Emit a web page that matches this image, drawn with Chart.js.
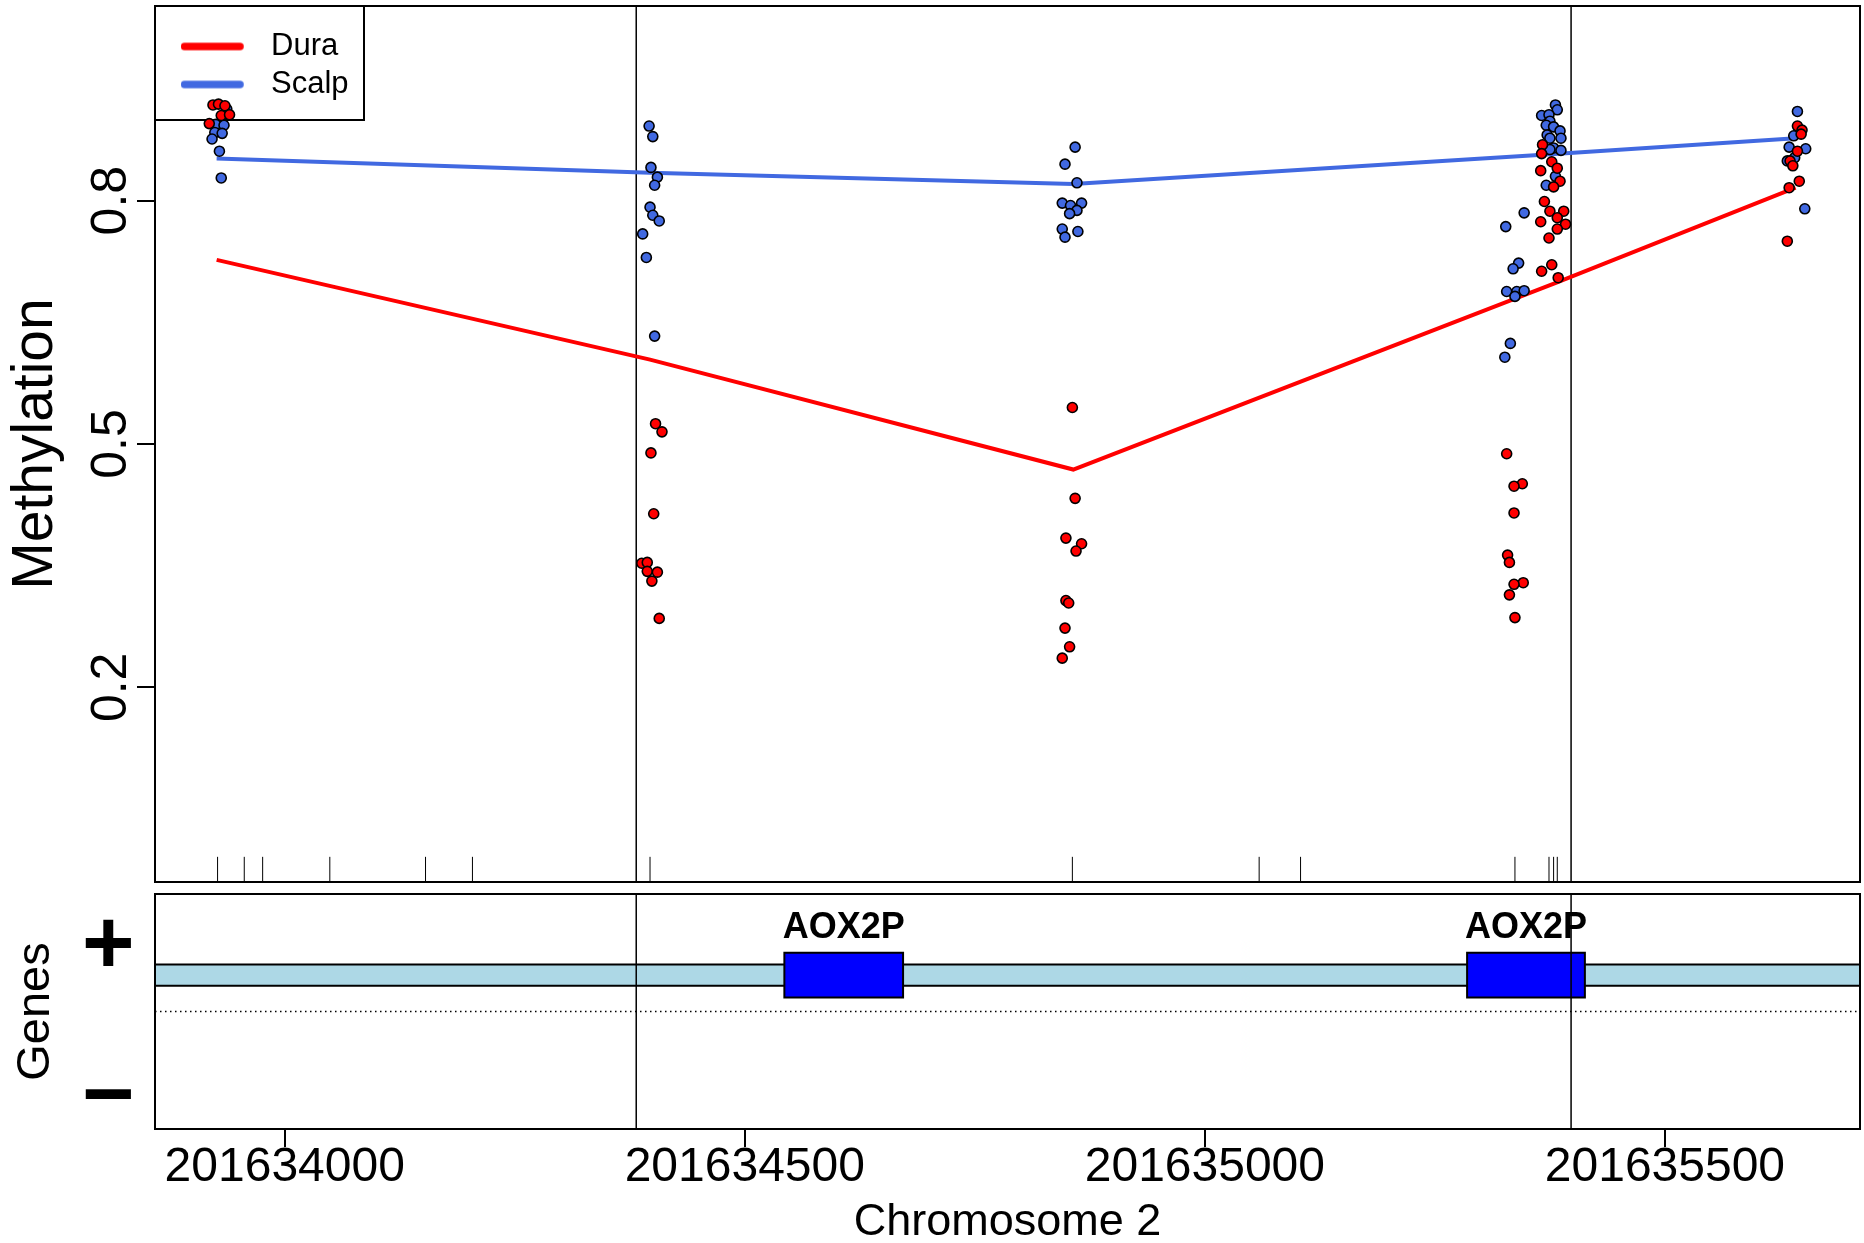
<!DOCTYPE html>
<html>
<head>
<meta charset="utf-8">
<title>Methylation, Chromosome 2</title>
<script src="https://cdn.jsdelivr.net/npm/chart.js"></script>
<style>
  html, body { margin: 0; padding: 0; background: #fff; }
  #page { position: relative; width: 1864px; height: 1243px; }
  #methChart { position: absolute; left: 0; top: 0; }
  #geneChart { position: absolute; left: 0; top: 884px; }
</style>
</head>
<body>
<div id="page">
  <canvas id="methChart" width="1864" height="890"></canvas>
  <canvas id="geneChart" width="1864" height="359"></canvas>
</div>
<script>
// genomic window and ticks
const xMin = 201633859;
const xMax = 201635712;
const xTicks = [201634000, 201634500, 201635000, 201635500];
const yTicks = [0.2, 0.5, 0.8];

// per-sample methylation, Dura
const duraPos = [
  201633922, 201633928, 201633935, 201633931, 201633940, 201633918,
  201634403, 201634410, 201634398, 201634401, 201634388, 201634394, 201634394, 201634405, 201634399, 201634407,
  201634856, 201634859, 201634849, 201634866, 201634860, 201634849, 201634852, 201634848, 201634853, 201634845,
  201635367, 201635366, 201635377, 201635383, 201635365, 201635386, 201635379, 201635369, 201635375, 201635390,
  201635383, 201635365, 201635392, 201635383, 201635374, 201635377, 201635366, 201635384,
  201635328, 201635345, 201635336, 201635336, 201635329, 201635331, 201635346, 201635336, 201635331, 201635337,
  201635644, 201635649, 201635648, 201635644, 201635636, 201635639, 201635646, 201635635, 201635633
];
const duraMeth = [
  0.918, 0.919, 0.917, 0.905, 0.906, 0.895,
  0.525, 0.515, 0.489, 0.414, 0.353, 0.354, 0.343, 0.342, 0.331, 0.285,
  0.545, 0.433, 0.384, 0.377, 0.368, 0.307, 0.304, 0.273, 0.250, 0.236,
  0.869, 0.858, 0.848, 0.840, 0.837, 0.824, 0.817, 0.799, 0.787, 0.787,
  0.779, 0.774, 0.771, 0.765, 0.754, 0.721, 0.713, 0.705,
  0.488, 0.451, 0.448, 0.415, 0.363, 0.354, 0.329, 0.327, 0.314, 0.286,
  0.892, 0.887, 0.882, 0.861, 0.849, 0.843, 0.824, 0.816, 0.750
];

// per-sample methylation, Scalp
const scalpPos = [
  201633937, 201633925, 201633934, 201633924, 201633932, 201633921, 201633929, 201633931,
  201634396, 201634400, 201634398, 201634405, 201634402, 201634397, 201634400, 201634407, 201634389, 201634393, 201634402,
  201634859, 201634848, 201634861, 201634845, 201634854, 201634866, 201634861, 201634853, 201634845, 201634862, 201634848,
  201635381, 201635383, 201635366, 201635374, 201635375, 201635371, 201635379, 201635386, 201635372, 201635375,
  201635387, 201635379, 201635387, 201635375, 201635381, 201635371, 201635347, 201635327, 201635341, 201635335,
  201635328, 201635339, 201635347, 201635337, 201635332, 201635326,
  201635644, 201635640, 201635635, 201635653, 201635633, 201635641, 201635652
];
const scalpMeth = [
  0.913, 0.894, 0.893, 0.884, 0.883, 0.876, 0.861, 0.828,
  0.892, 0.879, 0.841, 0.829, 0.819, 0.792, 0.782, 0.775, 0.759, 0.730, 0.633,
  0.866, 0.845, 0.822, 0.797, 0.794, 0.797, 0.788, 0.784, 0.765, 0.762, 0.755,
  0.918, 0.912, 0.905, 0.906, 0.898, 0.893, 0.891, 0.886, 0.881, 0.877,
  0.877, 0.865, 0.862, 0.863, 0.830, 0.819, 0.785, 0.768, 0.723, 0.716,
  0.688, 0.688, 0.689, 0.682, 0.624, 0.607,
  0.910, 0.880, 0.866, 0.864, 0.849, 0.853, 0.790
];

// group means
const meanPos = [201633926, 201634397, 201634857, 201635380, 201635642];
const duraMean = [0.727, 0.604, 0.4685, 0.698, 0.816];
const scalpMean = [0.852, 0.8345, 0.8205, 0.8575, 0.877];

// CpG sites (rug) and region markers
const cpgPos = [201633927, 201633956, 201633976, 201634049, 201634153, 201634204, 201634397,
  201634856, 201635059, 201635104, 201635337, 201635374, 201635379, 201635383];
const markerPos = [201634382, 201635398];

// genes
const geneNames = ['AOX2P', 'AOX2P'];
const geneStart = [201634543, 201635285];
const geneEnd = [201634672, 201635413];
const strandLabels = ['+', '\u2212'];

// layout values (not data)
const yMin = -0.04, yMax = 1.04;
const rugLevel = -0.025;
const track = { bandLow: 0.22, bandHigh: 0.40, boxLow: 0.12, boxHigh: 0.50, labelAt: 0.709 };
const strandAt = [0.54, -0.75];

const RED = '#ff0000';
const BLUE = '#4169e1';
const FONT = "'Liberation Sans', Arial, sans-serif";

Chart.defaults.font.family = FONT;
Chart.defaults.color = '#000';

const pts = (xs, ys) => xs.map((x, i) => ({ x, y: ys[i] }));

// fixed axis size, no extra label padding
const fixWidth = w => s => { s.width = w; s.paddingTop = 0; s.paddingBottom = 0; };
const fixHeight = h => s => { s.height = h; s.paddingLeft = 0; s.paddingRight = 0; };

// legend symbol: thick round-capped line with some room after it
const swatchWidth = 74.5;
function legendSwatch(color) {
  const c = document.createElement('canvas');
  c.width = 75;
  c.height = 10;
  const g = c.getContext('2d');
  g.strokeStyle = color;
  g.lineWidth = 7.5;
  g.lineCap = 'round';
  g.beginPath();
  g.moveTo(3.75, 5);
  g.lineTo(59.25, 5);
  g.stroke();
  return c;
}

// box round each panel
const boxFrame = {
  id: 'boxFrame',
  afterDatasetsDraw(chart) {
    const { ctx, chartArea: a } = chart;
    ctx.save();
    ctx.strokeStyle = '#000';
    ctx.lineWidth = 2;
    ctx.strokeRect(a.left, a.top, a.right - a.left, a.bottom - a.top);
    ctx.restore();
  }
};

// put the legend in the top left corner with a frame round it
const legendSpot = {
  id: 'legendSpot',
  afterLayout(chart) {
    const a = chart.chartArea;
    chart.legend.left = a.left + 19;
    chart.legend.top = a.top + 18;
  },
  beforeDatasetsDraw(chart) {
    const { ctx, chartArea: a } = chart;
    ctx.save();
    ctx.strokeStyle = '#000';
    ctx.lineWidth = 2;
    ctx.strokeRect(a.left, a.top, 209, 114);
    ctx.restore();
  }
};

const geneLabels = {
  id: 'geneLabels',
  afterDatasetsDraw(chart) {
    const { ctx, scales: { x, y } } = chart;
    ctx.save();
    ctx.font = 'bold 36px ' + FONT;
    ctx.fillStyle = '#000';
    ctx.textAlign = 'center';
    ctx.textBaseline = 'middle';
    geneNames.forEach((name, i) => {
      ctx.fillText(name, x.getPixelForValue((geneStart[i] + geneEnd[i]) / 2), y.getPixelForValue(track.labelAt));
    });
    ctx.restore();
  }
};

const markerLines = (lo, hi) => markerPos.map(x => ({
  label: 'marker',
  data: [{ x, y: lo }, { x, y: hi }],
  showLine: true,
  borderColor: '#000',
  borderWidth: 1.5,
  pointRadius: 0
}));

new Chart(document.getElementById('methChart'), {
  type: 'scatter',
  data: {
    datasets: [
      {
        label: 'Dura samples',
        data: pts(duraPos, duraMeth),
        pointRadius: 5,
        pointBorderWidth: 1.6,
        pointBackgroundColor: RED,
        pointBorderColor: '#000'
      },
      {
        label: 'Scalp samples',
        data: pts(scalpPos, scalpMeth),
        pointRadius: 5,
        pointBorderWidth: 1.6,
        pointBackgroundColor: BLUE,
        pointBorderColor: '#000'
      },
      {
        label: 'Dura',
        inLegend: true,
        data: pts(meanPos, duraMean),
        showLine: true,
        borderColor: RED,
        backgroundColor: RED,
        borderWidth: 4,
        pointRadius: 0
      },
      {
        label: 'Scalp',
        inLegend: true,
        data: pts(meanPos, scalpMean),
        showLine: true,
        borderColor: BLUE,
        backgroundColor: BLUE,
        borderWidth: 4,
        pointRadius: 0
      },
      {
        label: 'CpG',
        data: cpgPos.map(x => ({ x, y: rugLevel })),
        pointStyle: 'line',
        pointRotation: 90,
        pointRadius: 13,
        pointBorderWidth: 1,
        pointBorderColor: '#000'
      },
      ...markerLines(yMin, yMax)
    ]
  },
  options: {
    responsive: false,
    animation: false,
    events: [],
    layout: { autoPadding: false, padding: { top: 6, right: 4, bottom: 8, left: 0 } },
    plugins: {
      tooltip: { enabled: false },
      legend: {
        position: 'chartArea',
        align: 'start',
        labels: {
          font: { size: 31 },
          color: '#000',
          usePointStyle: true,
          pointStyleWidth: swatchWidth,
          boxHeight: 31,
          padding: 7,
          filter: (item, data) => !!data.datasets[item.datasetIndex].inLegend,
          generateLabels: chart => Chart.defaults.plugins.legend.labels.generateLabels(chart)
            .map(item => Object.assign(item, { pointStyle: legendSwatch(item.strokeStyle), rotation: 0 }))
        }
      }
    },
    scales: {
      x: { type: 'linear', display: false, min: xMin, max: xMax },
      y: {
        min: yMin,
        max: yMax,
        afterFit: fixWidth(155),
        afterBuildTicks: s => { s.ticks = yTicks.map(v => ({ value: v })); },
        grid: { drawOnChartArea: false, drawTicks: true, tickLength: 18, color: '#000', lineWidth: 2 },
        border: { display: false },
        ticks: {
          font: { size: 50 },
          color: '#000',
          minRotation: 90,
          maxRotation: 90,
          crossAlign: 'center',
          padding: -10,
          callback: v => v.toFixed(1)
        },
        title: { display: true, text: 'Methylation', font: { size: 57 }, color: '#000', padding: { top: 2, bottom: 0 } }
      }
    }
  },
  plugins: [legendSpot, boxFrame]
});

new Chart(document.getElementById('geneChart'), {
  type: 'scatter',
  data: {
    datasets: [
      ...markerLines(-1, 1),
      ...geneNames.map((name, i) => ({
        label: name,
        data: [
          { x: geneStart[i], y: track.boxLow }, { x: geneEnd[i], y: track.boxLow },
          { x: geneEnd[i], y: track.boxHigh }, { x: geneStart[i], y: track.boxHigh },
          { x: geneStart[i], y: track.boxLow }
        ],
        showLine: true,
        fill: 'shape',
        backgroundColor: '#0000ff',
        borderColor: '#000',
        borderWidth: 2,
        borderCapStyle: 'square',
        pointRadius: 0
      })),
      {
        label: 'plus strand',
        data: [
          { x: xMin, y: track.bandLow }, { x: xMax, y: track.bandLow },
          { x: xMax, y: track.bandHigh }, { x: xMin, y: track.bandHigh },
          { x: xMin, y: track.bandLow }
        ],
        showLine: true,
        fill: 'shape',
        backgroundColor: '#add8e6',
        borderColor: '#000',
        borderWidth: 2,
        pointRadius: 0
      },
      {
        label: 'strand divider',
        data: [{ x: xMin, y: 0 }, { x: xMax, y: 0 }],
        showLine: true,
        borderColor: '#000',
        borderWidth: 1.5,
        borderDash: [1.5, 3.5],
        pointRadius: 0
      }
    ]
  },
  options: {
    responsive: false,
    animation: false,
    events: [],
    layout: { autoPadding: false, padding: { top: 10, right: 4, bottom: 0, left: 0 } },
    plugins: {
      legend: { display: false },
      tooltip: { enabled: false }
    },
    scales: {
      x: {
        type: 'linear',
        min: xMin,
        max: xMax,
        afterFit: fixHeight(114),
        afterBuildTicks: s => { s.ticks = xTicks.map(v => ({ value: v })); },
        grid: { drawOnChartArea: false, drawTicks: true, tickLength: 18, color: '#000', lineWidth: 2 },
        border: { display: false },
        ticks: {
          font: { size: 48 },
          color: '#000',
          padding: -8.5,
          maxRotation: 0,
          autoSkip: false,
          callback: v => String(v)
        },
        title: { display: true, text: 'Chromosome 2', font: { size: 45 }, color: '#000', padding: { top: 0, bottom: -7 } }
      },
      y: {
        min: -1,
        max: 1,
        afterFit: fixWidth(155),
        afterBuildTicks: s => { s.ticks = strandAt.map(v => ({ value: v })); },
        grid: { display: false, drawTicks: false },
        border: { display: false },
        ticks: {
          font: { size: 90, weight: 'bold' },
          color: '#000',
          padding: 20.5,
          callback: (v, i) => strandLabels[i]
        },
        title: { display: true, text: 'Genes', font: { size: 47 }, color: '#000', padding: { top: 8, bottom: 0 } }
      }
    }
  },
  plugins: [geneLabels, boxFrame]
});
</script>
</body>
</html>
